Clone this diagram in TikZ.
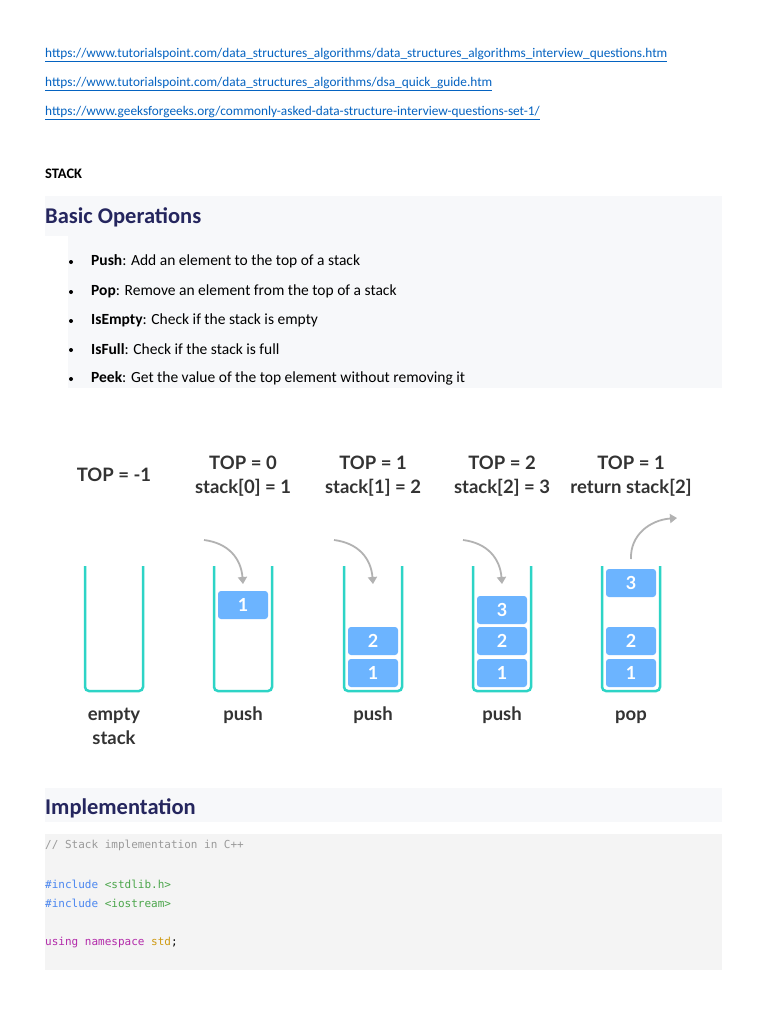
\documentclass[tikz,border=0pt]{standalone}
\usepackage{fontspec}
\setmainfont{Carlito}
\newfontfamily\latofont{Lato}
\setmonofont{DejaVu Sans Mono}
\usetikzlibrary{arrows.meta}
\definecolor{linkc}{HTML}{0563C1}
\definecolor{navy}{HTML}{25265E}
\definecolor{bandc}{HTML}{F7F8FA}
\definecolor{codebg}{HTML}{F4F4F4}
\definecolor{teal}{HTML}{2DD4C6}
\definecolor{blk}{HTML}{6CB4FF}
\definecolor{lbl}{HTML}{333333}
\definecolor{cgray}{HTML}{9A9A9A}
\definecolor{cblue}{HTML}{4A86F0}
\definecolor{cgreen}{HTML}{4CA64C}
\definecolor{cpurp}{HTML}{B32BAA}
\definecolor{corange}{HTML}{CF9A12}
\tikzset{
  link/.style={anchor=west,inner sep=0,text=linkc,font=\fontsize{13.3}{15}\selectfont},
  bodytxt/.style={anchor=west,inner sep=0,font=\fontsize{15.5}{18}\selectfont},
  head/.style={anchor=west,inner sep=0,text=navy,font=\fontsize{22.5}{26}\selectfont\bfseries},
  toplbl/.style={inner sep=0,align=center,text=lbl,font=\latofont\fontsize{18.5}{24}\selectfont\bfseries},
  container/.style={draw=teal,line width=2.5pt,rounded corners=4pt},
  blockbox/.style={fill=blk,rounded corners=3pt,minimum width=50pt,minimum height=28pt,inner sep=0,text=white,font=\latofont\fontsize{18}{20}\selectfont\bfseries},
  garrow/.style={draw=gray!60,line width=1.8pt,-{Triangle[length=7pt,width=9pt]}},
  code/.style={anchor=west,inner sep=0,font=\ttfamily\fontsize{11}{13}\selectfont}
}
\begin{document}
\begin{tikzpicture}[x=1pt,y=-1pt]
\useasboundingbox[fill=white] (0,0) rectangle (768,1024);
\node[link] (l1) at (45,55) {\underline{https://www.tutorialspoint.com/data\_structures\_algorithms/data\_structures\_algorithms\_interview\_questions.htm}};
\node[link] (l2) at (45,84) {\underline{https://www.tutorialspoint.com/data\_structures\_algorithms/dsa\_quick\_guide.htm}};
\node[link] (l3) at (45,113) {\underline{https://www.geeksforgeeks.org/commonly-asked-data-structure-interview-questions-set-1/}};
\node[bodytxt,font=\fontsize{14.5}{16}\selectfont\bfseries] (st) at (45,174) {STACK};
\fill[bandc] (45,196) rectangle (722,236);
\fill[bandc] (68,236) rectangle (722,388);
\node[head] (bo) at (45,217) {Basic Operations};
\foreach \y/\b/\t [count=\i] in {261/Push/: Add an element to the top of a stack,291/Pop/: Remove an element from the top of a stack,320/IsEmpty/: Check if the stack is empty,349/IsFull/: Check if the stack is full,378/Peek/: Get the value of the top element without removing it}{
  \fill (71,\y+1) circle (2pt);
  \node[bodytxt] (it\i) at (91,\y) {\textbf{\b}\t};
}
% diagram
\node[toplbl] (t0) at (114,475) {TOP = -1};
\node[toplbl] (t1) at (243,476) {TOP = 0\\stack[0] = 1};
\node[toplbl] (t2) at (373,476) {TOP = 1\\stack[1] = 2};
\node[toplbl] (t3) at (502,476) {TOP = 2\\stack[2] = 3};
\node[toplbl] (t4) at (631,476) {TOP = 1\\return stack[2]};
\foreach \x [count=\i] in {114,243,373,502,631}{
  \draw[container] (\x-29,566) -- (\x-29,691) -- (\x+29,691) -- (\x+29,566);
}
\node[blockbox] (a1) at (243,605) {1};
\node[blockbox] (b2) at (373,641) {2};
\node[blockbox] (b1) at (373,673) {1};
\node[blockbox] (c3) at (502,610) {3};
\node[blockbox] (c2) at (502,641) {2};
\node[blockbox] (c1) at (502,673) {1};
\node[blockbox] (d3) at (631,583) {3};
\node[blockbox] (d2) at (631,641) {2};
\node[blockbox] (d1) at (631,673) {1};
\foreach \x [count=\i] in {243,373,502}{
  \coordinate (s\i) at (\x-39,540);
  \coordinate (e\i) at (\x,584);
  \draw[garrow] (s\i) .. controls (\x-15,543) and (\x-2,558) .. (e\i);
}
\coordinate (ps) at (631,559);
\coordinate (pe) at (677,518);
\draw[garrow] (ps) .. controls (630,535) and (650,520) .. (pe);
\node[toplbl] (u0) at (114,726) {empty\\stack};
\node[toplbl,anchor=base] (u1) at (243,720) {push};
\node[toplbl,anchor=base] (u2) at (373,720) {push};
\node[toplbl,anchor=base] (u3) at (502,720) {push};
\node[toplbl,anchor=base] (u4) at (631,720) {pop};
% implementation
\fill[bandc] (45,788) rectangle (722,822);
\node[head] (im) at (45,808) {Implementation};
\fill[codebg] (45,834) rectangle (722,970);
\node[code,text=cgray] (k1) at (45,845) {// Stack implementation in C++};
\node[code] (k2) at (45,884) {\textcolor{cblue}{\#include} \textcolor{cgreen}{<stdlib.h>}};
\node[code] (k3) at (45,903) {\textcolor{cblue}{\#include} \textcolor{cgreen}{<iostream>}};
\node[code] (k4) at (45,942) {\textcolor{cpurp}{using namespace} \textcolor{corange}{std};};
\end{tikzpicture}
\end{document}
